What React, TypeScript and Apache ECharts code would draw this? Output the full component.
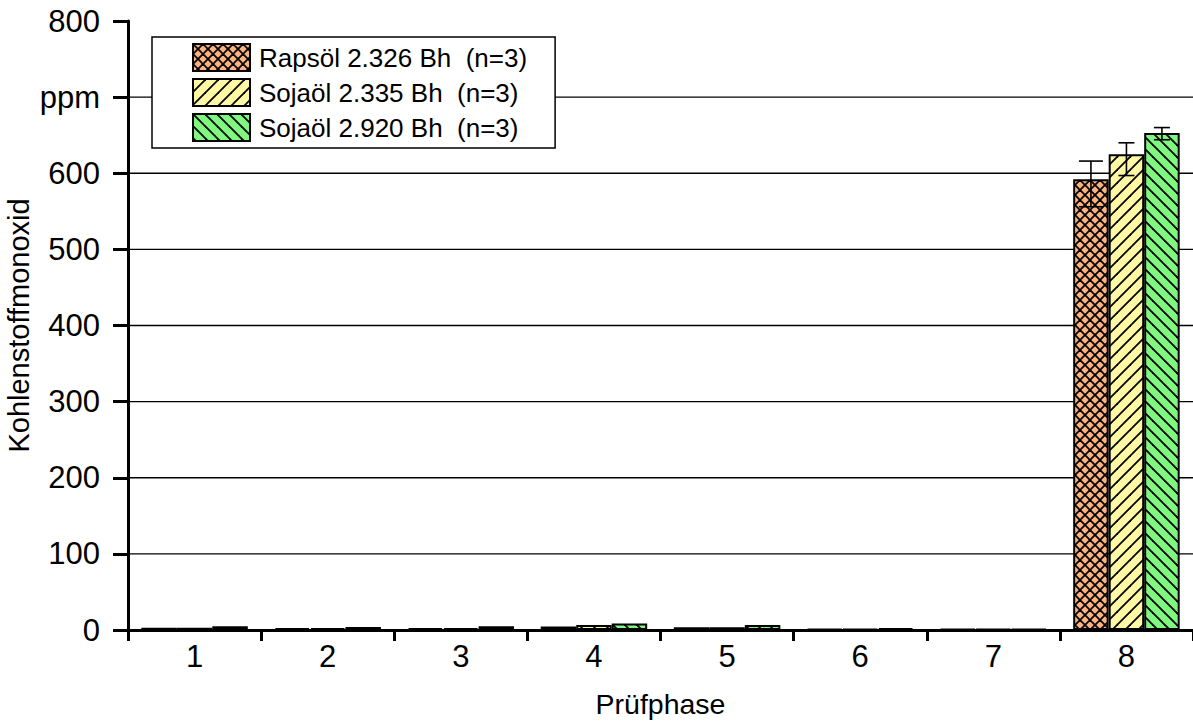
import React, { useEffect, useRef } from 'react';
import * as echarts from 'echarts';

const categories = ['1', '2', '3', '4', '5', '6', '7', '8'];
const seriesNames = ['Rapsöl 2.326 Bh  (n=3)', 'Sojaöl 2.335 Bh  (n=3)', 'Sojaöl 2.920 Bh  (n=3)'];
const rapsoel2326 = [3, 2.5, 2.5, 4.5, 3.5, 1.5, 1.5, 592];
const sojaoel2335 = [3, 2.5, 2.5, 6.5, 3.5, 1.5, 1.5, 625];
const sojaoel2920 = [5, 4, 5, 8.5, 6.5, 2.5, 1.5, 653];
const rapsoelLow = [null, null, null, null, null, null, null, 556];
const rapsoelHigh = [null, null, null, null, null, null, null, 616];
const soja2335Low = [null, null, null, null, null, null, null, 597];
const soja2335High = [null, null, null, null, null, null, null, 640];
const soja2920Low = [null, null, null, null, null, null, null, 644];
const soja2920High = [null, null, null, null, null, null, null, 660];
const yTickValues = [0, 100, 200, 300, 400, 500, 600, 700, 800];
const gridValues = [100, 200, 300, 400, 500, 600, 700];

const FONT = "'Liberation Sans', Arial, Helvetica, sans-serif";

function makePattern(bg: string, kind: 'cross' | 'fwd' | 'back', s: number) {
  const c = document.createElement('canvas');
  c.width = s;
  c.height = s;
  const ctx = c.getContext('2d')!;
  ctx.fillStyle = bg;
  ctx.fillRect(0, 0, s, s);
  ctx.strokeStyle = '#000';
  ctx.lineWidth = 1.8;
  for (const k of [-1, 0, 1]) {
    if (kind === 'cross' || kind === 'fwd') {
      ctx.beginPath();
      ctx.moveTo(k * s - 1, s + 1);
      ctx.lineTo(s + k * s + 1, -1);
      ctx.stroke();
    }
    if (kind === 'cross' || kind === 'back') {
      ctx.beginPath();
      ctx.moveTo(k * s - 1, -1);
      ctx.lineTo(s + k * s + 1, s + 1);
      ctx.stroke();
    }
  }
  return { image: c, repeat: 'repeat', imageWidth: s, imageHeight: s };
}

export default function App() {
  const ref = useRef<HTMLDivElement>(null);
  useEffect(() => {
    const chart = echarts.init(ref.current!, undefined, { renderer: 'svg' });
    const fills = [
      makePattern('#FDB27F', 'cross', 10),
      makePattern('#FFF9A6', 'fwd', 13),
      makePattern('#80F880', 'back', 12),
    ];
    const values = [rapsoel2326, sojaoel2335, sojaoel2920];
    const lows = [rapsoelLow, soja2335Low, soja2920Low];
    const highs = [rapsoelHigh, soja2335High, soja2920High];
    const capWidths = [24, 16, 16];
    const errData: any[] = [];
    lows.forEach((arr, s) => {
      arr.forEach((lo, i) => {
        if (lo != null && highs[s][i] != null) errData.push([i, lo, highs[s][i], s]);
      });
    });
    const barSeries = values.map((v, s) => ({
      type: 'bar',
      name: seriesNames[s],
      data: v,
      barGap: '0%',
      barCategoryGap: '20%',
      z: 3,
      itemStyle: { color: fills[s], borderColor: '#000', borderWidth: 2 },
    }));
    chart.setOption({
      animation: false,
      grid: { left: 128, right: 0, top: 21, bottom: 94, containLabel: false, outerBoundsMode: 'none' },
      legend: {
        orient: 'vertical',
        left: 152,
        top: 37,
        icon: 'rect',
        itemWidth: 57,
        itemHeight: 27,
        itemGap: 6,
        padding: [6, 28, 6, 40],
        backgroundColor: '#fff',
        borderColor: '#000',
        borderWidth: 1.5,
        z: 10,
        textStyle: { fontFamily: FONT, fontSize: 26, color: '#000', padding: [0, 0, 0, 4] },
        data: seriesNames,
      },
      xAxis: {
        type: 'category',
        data: categories,
        name: 'Prüfphase',
        nameLocation: 'middle',
        nameGap: 59,
        nameMoveOverlap: false,
        nameTextStyle: { fontFamily: FONT, fontSize: 28.5, color: '#000' },
        axisLine: { lineStyle: { color: '#000', width: 3 } },
        axisTick: { show: true, length: 11, lineStyle: { color: '#000', width: 3 } },
        axisLabel: { fontFamily: FONT, fontSize: 31, color: '#000', margin: 11 },
        splitLine: { show: false },
      },
      yAxis: {
        type: 'value',
        min: 0,
        max: 800,
        interval: 100,
        name: 'Kohlenstoffmonoxid',
        nameLocation: 'middle',
        nameGap: 95,
        nameMoveOverlap: false,
        nameTextStyle: { fontFamily: FONT, fontSize: 29, color: '#000' },
        axisLine: { show: true, lineStyle: { color: '#000', width: 3 } },
        axisTick: { show: true, length: 15, lineStyle: { color: '#000', width: 3 } },
        axisLabel: {
          fontFamily: FONT,
          fontSize: 31,
          color: '#000',
          margin: 28,
          formatter: (v: number) => (v === 700 ? 'ppm' : yTickValues.includes(v) ? String(v) : ''),
        },
        splitLine: { show: false },
      },
      series: [
        {
          type: 'custom',
          name: 'grid',
          z: 1,
          silent: true,
          data: gridValues.map((v) => [0, v]),
          encode: { x: 0, y: 1 },
          renderItem: (params: any, api: any) => {
            const y = api.coord([0, api.value(1)])[1];
            const cs = params.coordSys;
            return {
              type: 'line',
              shape: { x1: cs.x, y1: y, x2: cs.x + cs.width, y2: y },
              style: { stroke: '#000', lineWidth: 1.4 },
            };
          },
        },
        ...barSeries,
        {
          type: 'custom',
          name: 'err',
          z: 5,
          silent: true,
          data: errData,
          encode: { x: 0, y: [1, 2] },
          renderItem: (params: any, api: any) => {
            const cat = api.value(0);
            const lo = api.value(1);
            const hi = api.value(2);
            const s = api.value(3);
            const band = api.size([1, 0])[0];
            const bw = (band * 0.8) / 3;
            const cx = api.coord([cat, 0])[0] + (s - 1) * bw;
            const yl = api.coord([cat, lo])[1];
            const yh = api.coord([cat, hi])[1];
            const hw = capWidths[s] / 2;
            const st = { stroke: '#000', lineWidth: 1.6 };
            return {
              type: 'group',
              children: [
                { type: 'line', shape: { x1: cx, y1: yl, x2: cx, y2: yh }, style: st },
                { type: 'line', shape: { x1: cx - hw, y1: yh, x2: cx + hw, y2: yh }, style: st },
                { type: 'line', shape: { x1: cx - hw, y1: yl, x2: cx + hw, y2: yl }, style: st },
              ],
            };
          },
        },
      ],
    });
    return () => chart.dispose();
  }, []);
  return (
    <div
      ref={ref}
      style={{ position: 'fixed', left: 0, top: 0, width: 1193, height: 724, background: '#fff' }}
    />
  );
}
